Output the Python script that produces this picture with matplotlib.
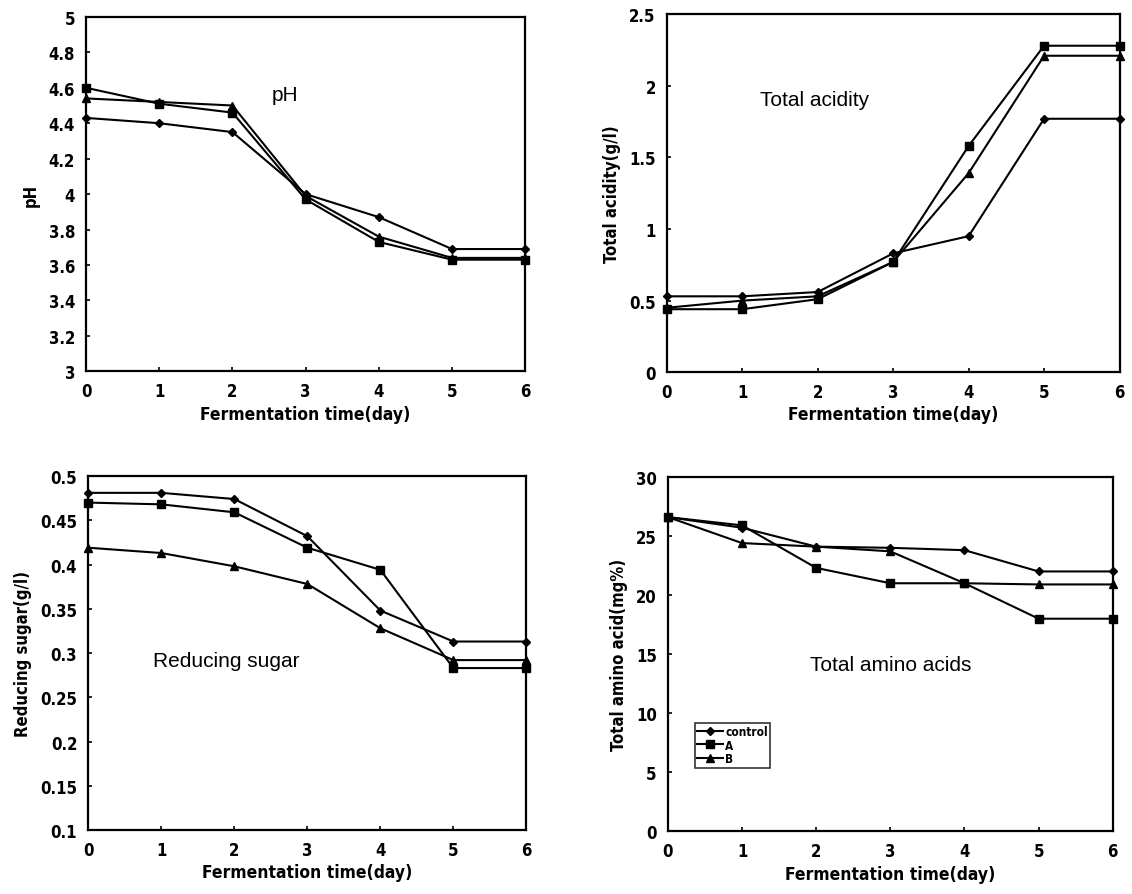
"""Fermentation time course: pH, total acidity, reducing sugar and amino acids."""

import matplotlib

matplotlib.use("Agg")
import matplotlib.pyplot as plt
from matplotlib.ticker import FixedLocator, FuncFormatter

days = [0, 1, 2, 3, 4, 5, 6]
series_names = ["control", "A", "B"]

ph_control = [4.43, 4.40, 4.35, 4.00, 3.87, 3.69, 3.69]
ph_a = [4.60, 4.51, 4.46, 3.97, 3.73, 3.63, 3.63]
ph_b = [4.54, 4.52, 4.50, 3.99, 3.76, 3.64, 3.64]

acid_control = [0.53, 0.53, 0.56, 0.83, 0.95, 1.77, 1.77]
acid_a = [0.44, 0.44, 0.51, 0.77, 1.58, 2.28, 2.28]
acid_b = [0.45, 0.50, 0.53, 0.77, 1.39, 2.21, 2.21]

sugar_control = [0.481, 0.481, 0.474, 0.432, 0.348, 0.313, 0.313]
sugar_a = [0.470, 0.468, 0.459, 0.419, 0.394, 0.283, 0.283]
sugar_b = [0.419, 0.413, 0.398, 0.378, 0.328, 0.292, 0.292]

amino_control = [26.6, 25.7, 24.1, 24.0, 23.8, 22.0, 22.0]
amino_a = [26.6, 25.9, 22.3, 21.0, 21.0, 18.0, 18.0]
amino_b = [26.6, 24.4, 24.1, 23.7, 21.0, 20.9, 20.9]

ph_ticks = [3, 3.2, 3.4, 3.6, 3.8, 4, 4.2, 4.4, 4.6, 4.8, 5]
acid_ticks = [0, 0.5, 1, 1.5, 2, 2.5]
sugar_ticks = [0.1, 0.15, 0.2, 0.25, 0.3, 0.35, 0.4, 0.45, 0.5]
amino_ticks = [0, 5, 10, 15, 20, 25, 30]

MARKERS = {"control": ("D", 4), "A": ("s", 6), "B": ("^", 6)}
NARROW = dict(family="DejaVu Sans", stretch="condensed", weight="bold")
TITLE_FONT = dict(family=["Liberation Sans", "DejaVu Sans"], size=15)


def _panel(fig, rect, values, yticks, ylabel, title, title_xy, title_ha="left"):
    ax = fig.add_axes(rect)
    for name, ys in zip(series_names, values):
        marker, size = MARKERS[name]
        ax.plot(days, ys, color="black", lw=1.5, marker=marker, ms=size,
                markeredgecolor="black", markerfacecolor="black", label=name,
                clip_on=False, zorder=3)
    ax.set_xlim(days[0], days[-1])
    ax.set_ylim(yticks[0], yticks[-1])
    ax.xaxis.set_major_locator(FixedLocator(days))
    ax.yaxis.set_major_locator(FixedLocator(yticks))
    ax.yaxis.set_major_formatter(FuncFormatter(lambda v, _: f"{v:g}"))
    ax.tick_params(direction="in", length=3, width=1.2, pad=8)
    for lab in ax.get_xticklabels() + ax.get_yticklabels():
        lab.set_fontfamily(NARROW["family"])
        lab.set_fontstretch(NARROW["stretch"])
        lab.set_fontweight("bold")
        lab.set_fontsize(12)
    for sp in ax.spines.values():
        sp.set_linewidth(1.6)
    ax.set_xlabel("Fermentation time(day)", labelpad=3, size=12.5, **NARROW)
    ax.set_ylabel(ylabel, labelpad=6, size=12, **NARROW)
    ax.text(title_xy[0], title_xy[1], title, transform=ax.transAxes,
            ha=title_ha, va="center", **TITLE_FONT)
    return ax


fig = plt.figure(figsize=(11.32, 8.95), dpi=100)

_panel(fig, [0.076, 0.584, 0.388, 0.396], [ph_control, ph_a, ph_b],
       ph_ticks, "pH", "pH", (0.453, 0.782), title_ha="center")
_panel(fig, [0.589, 0.583, 0.400, 0.400], [acid_control, acid_a, acid_b],
       acid_ticks, "Total acidity(g/l)", "Total acidity", (0.205, 0.763))
_panel(fig, [0.078, 0.0715, 0.387, 0.3955], [sugar_control, sugar_a, sugar_b],
       sugar_ticks, "Reducing sugar(g/l)", "Reducing sugar", (0.147, 0.48))
ax4 = _panel(fig, [0.590, 0.070, 0.393, 0.396], [amino_control, amino_a, amino_b],
             amino_ticks, "Total amino acid(mg%)", "Total amino acids", (0.50, 0.47),
             title_ha="center")

leg = ax4.legend(loc="lower left", bbox_to_anchor=(0.06, 0.18), borderaxespad=0,
                 frameon=True, fancybox=False, edgecolor="black", handlelength=2.2,
                 handletextpad=0.2, borderpad=0.2, labelspacing=0.05,
                 prop=dict(size=8.5, **NARROW))
leg.get_frame().set_linewidth(1.2)

fig.savefig("out.png", dpi=100)
